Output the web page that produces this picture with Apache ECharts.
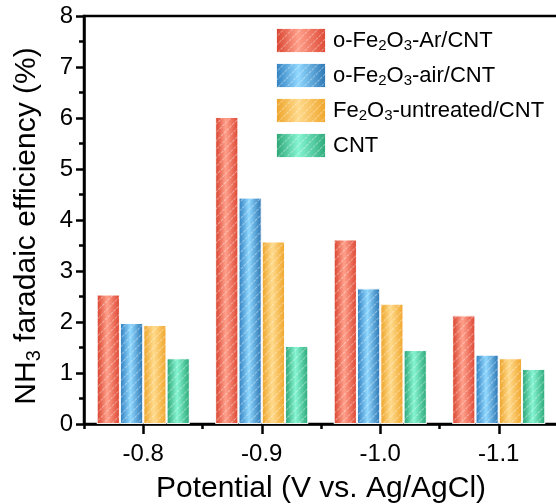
<!DOCTYPE html>
<html>
<head>
<meta charset="utf-8">
<script src="https://cdn.jsdelivr.net/npm/echarts@6/dist/echarts.min.js"></script>
<style>
  html, body { margin: 0; padding: 0; background: #fff; }
  #chart { width: 556px; height: 504px; }
</style>
</head>
<body>
<div id="chart"></div>
<script>
// Applied potentials (V vs. Ag/AgCl)
const potentials = ['-0.8', '-0.9', '-1.0', '-1.1'];

// NH3 faradaic efficiency (%) for each electrode
const feArCnt = [2.54, 6.02, 3.62, 2.13];
const feAirCnt = [1.98, 4.44, 2.66, 1.36];
const feUntreatedCnt = [1.94, 3.58, 2.36, 1.29];
const cnt = [1.29, 1.53, 1.45, 1.08];

const seriesNames = ['o-Fe2O3-Ar/CNT', 'o-Fe2O3-air/CNT', 'Fe2O3-untreated/CNT', 'CNT'];
const legendLabels = {
  'o-Fe2O3-Ar/CNT': 'o-Fe{sub|2}O{sub|3}-Ar/CNT',
  'o-Fe2O3-air/CNT': 'o-Fe{sub|2}O{sub|3}-air/CNT',
  'Fe2O3-untreated/CNT': 'Fe{sub|2}O{sub|3}-untreated/CNT',
  'CNT': 'CNT'
};

const yTicks = [0, 8, 1]; // min, max, interval

const FONT = 'Arial, "Liberation Sans", sans-serif';
const AXIS_W = 2.5;

// edge / centre colours for the cylindrical shading of each bar
const palette = [
  ['#d63d28', '#ffa08b', '#dc4430'],
  ['#2b7bbd', '#90d8ff', '#2872b0'],
  ['#eca021', '#ffda8c', '#efa326'],
  ['#26a070', '#86f5d2', '#29a676']
];

function shade(c) {
  return new echarts.graphic.LinearGradient(0, 0, 1, 0, [
    { offset: 0, color: c[0] },
    { offset: 0.45, color: c[1] },
    { offset: 1, color: c[2] }
  ]);
}

// thin white diagonal hatching laid over every bar
const hatch = {
  symbol: 'rect',
  symbolSize: 1,
  color: 'rgba(255,255,255,0.38)',
  dashArrayX: [[3, 1]],
  dashArrayY: [1, 5],
  rotation: -Math.PI / 4
};

const values = [feArCnt, feAirCnt, feUntreatedCnt, cnt];

const chart = echarts.init(document.getElementById('chart'), null, { renderer: 'canvas' });

chart.setOption({
  animation: false,
  backgroundColor: '#fff',
  textStyle: { fontFamily: FONT, color: '#000' },
  grid: {
    left: 84, right: -2, top: 16, bottom: 80,
    outerBoundsMode: 'none',
    containLabel: false,
    show: true, borderColor: '#000', borderWidth: AXIS_W, backgroundColor: 'transparent'
  },
  legend: {
    orient: 'vertical',
    left: 275, top: 27, padding: 0,
    icon: 'rect',
    itemWidth: 50, itemHeight: 25, itemGap: 8,
    data: seriesNames,
    formatter: name => legendLabels[name],
    textStyle: {
      fontFamily: FONT, fontSize: 22, lineHeight: 25, color: '#000', padding: [0, 0, 0, 2],
      rich: {
        sub: { fontFamily: FONT, fontSize: 15, lineHeight: 25, color: '#000', verticalAlign: 'bottom', padding: [10, 0, 0, 0] }
      }
    }
  },
  xAxis: [
    {
      type: 'category',
      data: potentials,
      position: 'bottom',
      name: 'Potential (V vs. Ag/AgCl)',
      nameLocation: 'middle',
      nameGap: 50,
      nameTextStyle: { fontFamily: FONT, fontSize: 30, color: '#000' },
      axisLine: { lineStyle: { color: '#000', width: AXIS_W } },
      axisTick: { show: true, alignWithLabel: true, length: 10, lineStyle: { color: '#000', width: AXIS_W } },
      axisLabel: { fontFamily: FONT, fontSize: 24, color: '#000', margin: 18 }
    },
    {
      type: 'category',
      data: potentials,
      position: 'bottom',
      gridIndex: 0,
      axisLine: { show: false },
      axisTick: { show: true, alignWithLabel: false, length: 5, lineStyle: { color: '#000', width: AXIS_W } },
      axisLabel: { show: false }
    }
  ],
  yAxis: {
    type: 'value',
    min: yTicks[0], max: yTicks[1], interval: yTicks[2],
    name: 'NH{sub|3} faradaic efficiency (%)',
    nameLocation: 'middle',
    nameGap: 40,
    nameTextStyle: {
      fontFamily: FONT, fontSize: 30, color: '#000', padding: [0, 12, 0, 0],
      rich: { sub: { fontFamily: FONT, fontSize: 20, color: '#000', verticalAlign: 'bottom', padding: [14, 0, 0, 0] } }
    },
    axisLine: { show: true, lineStyle: { color: '#000', width: AXIS_W } },
    axisTick: { show: true, length: 8, lineStyle: { color: '#000', width: AXIS_W } },
    minorTick: { show: true, splitNumber: 2, length: 5, lineStyle: { color: '#000', width: AXIS_W } },
    splitLine: { show: false },
    axisLabel: { fontFamily: FONT, fontSize: 24, color: '#000', margin: 11 }
  },
  series: seriesNames.map((name, i) => ({
    name: name,
    type: 'bar',
    xAxisIndex: 0,
    data: values[i],
    barWidth: 23.3,
    barGap: '0%',
    itemStyle: {
      color: shade(palette[i]),
      borderColor: 'rgba(255,255,255,0.7)',
      borderWidth: 1,
      decal: hatch
    }
  }))
});
</script>
</body>
</html>
